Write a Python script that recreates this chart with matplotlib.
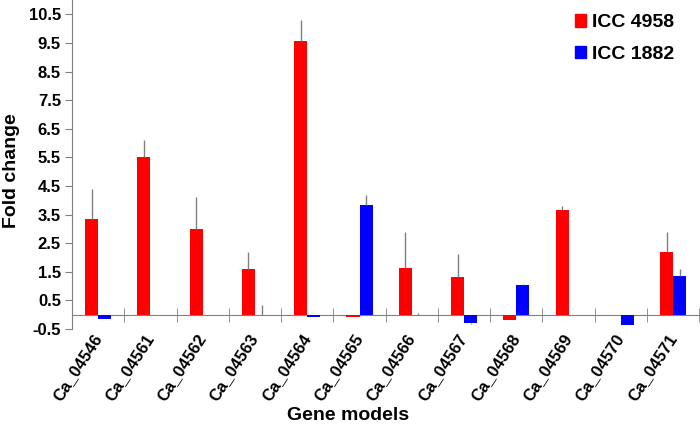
import matplotlib
matplotlib.use("Agg")
import matplotlib.pyplot as plt
import numpy as np
from matplotlib.patches import Patch

plt.rcParams['font.family'] = ['Liberation Sans', 'DejaVu Sans']
plt.rcParams['font.weight'] = 'bold'

genes = ["Ca_04546", "Ca_04561", "Ca_04562", "Ca_04563", "Ca_04564", "Ca_04565",
         "Ca_04566", "Ca_04567", "Ca_04568", "Ca_04569", "Ca_04570", "Ca_04571"]
icc4958 = [3.35, 5.5, 3.0, 1.6, 9.55, -0.07, 1.65, 1.33, -0.17, 3.65, 0.0, 2.18]
icc4958_err = [1.05, 0.6, 1.1, 0.6, 0.75, 0.0, 1.23, 0.8, 0.0, 0.15, 0.0, 0.72]
icc1882 = [-0.16, 0.0, -0.02, 0.0, -0.07, 3.85, 0.0, -0.28, 1.03, 0.0, -0.35, 1.36]
icc1882_err = [0.0, 0.0, 0.0, 0.33, 0.0, 0.35, 0.05, 0.05, 0.05, 0.0, 0.0, 0.25]
yticks = [-0.5, 0.5, 1.5, 2.5, 3.5, 4.5, 5.5, 6.5, 7.5, 8.5, 9.5, 10.5]

fig = plt.figure(figsize=(7, 4.29), dpi=100)
ax = fig.add_axes([0.103, 0.233, 0.896, 0.767])

x = np.arange(len(genes))
w = 0.25
ekw = dict(ecolor='#808080', elinewidth=1, capsize=0)


def split_err(vals, errs):
    lower = [e if v < 0 else 0 for v, e in zip(vals, errs)]
    upper = [e if v >= 0 else 0 for v, e in zip(vals, errs)]
    return [lower, upper]


ax.bar(x - w / 2, icc4958, w, color='#ff0000', label='ICC 4958',
       yerr=split_err(icc4958, icc4958_err), error_kw=ekw, zorder=3)
ax.bar(x + w / 2, icc1882, w, color='#0000ff', label='ICC 1882',
       yerr=split_err(icc1882, icc1882_err), error_kw=ekw, zorder=3)

ax.set_xlim(-0.5, len(genes) - 0.5)
ax.set_ylim(-0.5, 11)
ax.set_yticks(yticks)
ax.set_yticklabels([f"{v:g}" for v in yticks], fontsize=12, fontweight='bold')

ax.spines['top'].set_visible(False)
ax.spines['right'].set_visible(False)
ax.spines['bottom'].set_position(('data', 0))
ax.spines['bottom'].set_color('#808080')
ax.spines['left'].set_color('#808080')
ax.tick_params(axis='y', direction='out', length=5, color='#808080', pad=3)

ax.set_xticks(x)
ax.set_xticklabels(genes, rotation=57, ha='right', va='center', rotation_mode='anchor',
                   fontsize=12, fontweight='bold')
ax.tick_params(axis='x', which='major', length=0, pad=15)
ax.set_xticks(np.arange(-0.5, len(genes), 1.0)[1:], minor=True)
ax.tick_params(axis='x', which='minor', direction='inout', length=10, color='#808080')

fig.text(0.017, 1 - 171 / 429, 'Fold change', fontsize=14, fontweight='bold',
         rotation=90, ha='center', va='center')
fig.text(0.497, 1 - 415 / 429, 'Gene models', fontsize=14, fontweight='bold',
         ha='center', va='center')

handles = [Patch(color='#ff0000'), Patch(color='#0000ff')]
ax.legend(handles, ['ICC 4958', 'ICC 1882'], loc='upper right', frameon=False,
          handlelength=0.6, handleheight=0.6, handletextpad=0.3,
          labelspacing=0.75, bbox_to_anchor=(0.988, 1.01),
          prop={'weight': 'bold', 'size': 14})

fig.savefig('out.png', dpi=100)
